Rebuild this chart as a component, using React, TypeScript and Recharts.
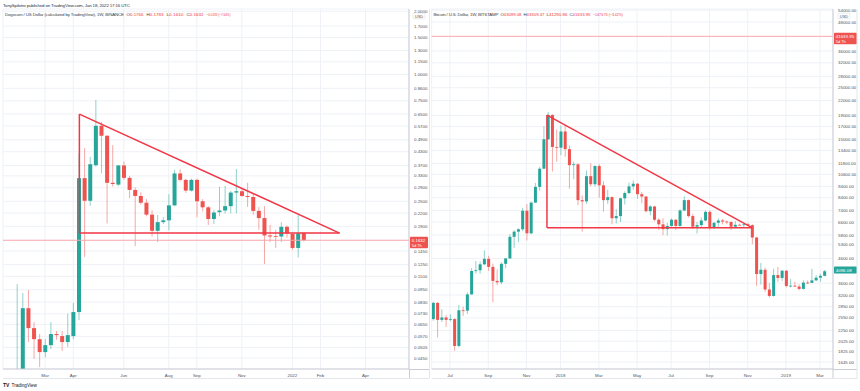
import { ComposedChart, Bar, XAxis, YAxis, CartesianGrid, ReferenceLine } from "recharts";

const GREEN = "#26a69a";
const RED = "#ef5350";
const LINE_RED = "#f23645";
const GRID = "#eef1f6";
const AXIS = "#c9ccd4";
const TEXT = "#50535e";
const FONT = "'Liberation Sans', Arial, sans-serif";

// Dogecoin weekly candles, first bar = week of 25 Jan 2021
const dogeOpen = [0.0087, 0.036, 0.0776, 0.0624, 0.0553, 0.048, 0.0518, 0.0585, 0.0572, 0.0536, 0.0572, 0.0744, 0.322, 0.2514, 0.371, 0.571, 0.512, 0.306, 0.3, 0.37, 0.323, 0.283, 0.265, 0.246, 0.216, 0.181, 0.199, 0.203, 0.239, 0.339, 0.316, 0.281, 0.316, 0.25, 0.234, 0.206, 0.222, 0.226, 0.237, 0.275, 0.279, 0.265, 0.262, 0.225, 0.208, 0.172, 0.171, 0.17, 0.189, 0.175, 0.15, 0.1766];
const dogeHigh = [0.101, 0.0916, 0.0947, 0.0666, 0.0585, 0.0553, 0.0666, 0.0605, 0.0605, 0.0731, 0.0821, 0.42, 0.447, 0.407, 0.757, 0.596, 0.515, 0.462, 0.372, 0.386, 0.33, 0.291, 0.276, 0.256, 0.227, 0.215, 0.21, 0.27, 0.353, 0.355, 0.32, 0.32, 0.32, 0.256, 0.237, 0.227, 0.293, 0.296, 0.28, 0.356, 0.284, 0.306, 0.27, 0.235, 0.237, 0.193, 0.183, 0.199, 0.192, 0.176, 0.2146, 0.1783];
const dogeLow = [0.0078, 0.033, 0.0536, 0.0446, 0.0407, 0.0453, 0.0496, 0.055, 0.0486, 0.0508, 0.0553, 0.0681, 0.136, 0.2381, 0.365, 0.339, 0.196, 0.294, 0.295, 0.316, 0.259, 0.153, 0.241, 0.212, 0.17, 0.16, 0.195, 0.182, 0.237, 0.31, 0.274, 0.278, 0.21, 0.224, 0.193, 0.195, 0.212, 0.219, 0.219, 0.219, 0.262, 0.235, 0.216, 0.183, 0.126, 0.16, 0.15, 0.16, 0.168, 0.147, 0.135, 0.161];
const dogeClose = [0.036, 0.0776, 0.0624, 0.0553, 0.048, 0.0518, 0.0585, 0.0578, 0.0536, 0.0578, 0.0744, 0.322, 0.2514, 0.375, 0.571, 0.512, 0.306, 0.302, 0.37, 0.323, 0.283, 0.265, 0.246, 0.216, 0.181, 0.199, 0.203, 0.239, 0.339, 0.316, 0.281, 0.316, 0.25, 0.234, 0.206, 0.221, 0.226, 0.237, 0.275, 0.279, 0.265, 0.262, 0.225, 0.208, 0.172, 0.17, 0.17, 0.189, 0.176, 0.15, 0.176, 0.1632];

const dogePriceTicks = [2.0, 1.7, 1.5, 1.3, 1.15, 1.0, 0.86, 0.75, 0.65, 0.57, 0.49, 0.43, 0.37, 0.33, 0.29, 0.25, 0.22, 0.19, 0.145, 0.125, 0.11, 0.095, 0.083, 0.073, 0.065, 0.057, 0.0505, 0.045];
const dogeMonthWeeks = [5, 10, 19, 27, 32, 40, 49, 54, 62];
const dogeMonthLabels = ["Mar", "Apr", "Jun", "Aug", "Sep", "Nov", "2022", "Feb", "Apr"];

// Bitcoin weekly candles, week 0 = 3 Jul 2017, first bar at week -4
const btcFirstWeek = -4;
const btcOpen = [2520, 2960, 2500, 2560, 2500, 2520, 1930, 2750, 2740, 3220, 4060, 4090, 4340, 4580, 4230, 3680, 3630, 4360, 4600, 5700, 6000, 6140, 7380, 5900, 8000, 9350, 11200, 15000, 19100, 13900, 13800, 16200, 13600, 11600, 11700, 8200, 8100, 10400, 9600, 11500, 9500, 8200, 8450, 6850, 7000, 8350, 8800, 9400, 9650, 8700, 8500, 7350, 7700, 6750, 6450, 6150, 6350, 6750, 6350, 7400, 8200, 7000, 6300, 6400, 6700, 7300, 6250, 6550, 6700, 6630, 6600, 6300, 6420, 6400, 6450, 6400, 5660, 3940, 4110, 3380, 3170, 3900, 3790, 4070, 3500, 3510, 3480, 3400, 3620, 3610, 3700, 3800, 3870];
const btcHigh = [3000, 2980, 2780, 2620, 2640, 2540, 2900, 2850, 3290, 4180, 4480, 4460, 4980, 4720, 4370, 4120, 4420, 4620, 5860, 6070, 6200, 7600, 7880, 8100, 9720, 11400, 17100, 19666, 19200, 16500, 17200, 17200, 14100, 12000, 11800, 8600, 11000, 11800, 11600, 11700, 9900, 9100, 8500, 7500, 8400, 8950, 9750, 9950, 9700, 8900, 8550, 7800, 7750, 6850, 6850, 6550, 6850, 6800, 7500, 8500, 8250, 7150, 6600, 6900, 7400, 7400, 6600, 6850, 6800, 6700, 6650, 6650, 6500, 6480, 6550, 6450, 5700, 4400, 4200, 3600, 4150, 4230, 4100, 4100, 3750, 3650, 3560, 3700, 3700, 4150, 3900, 3950, 4100];
const btcLow = [2480, 2100, 2450, 2330, 2470, 1840, 1900, 2600, 2650, 3210, 3960, 3950, 4300, 4060, 2980, 3530, 3560, 4170, 4580, 5100, 5400, 6030, 5500, 5850, 7980, 9000, 11200, 14900, 10900, 12000, 12800, 12600, 9200, 10100, 7800, 6000, 7900, 9400, 9400, 8400, 7320, 7900, 6450, 6500, 6600, 7850, 8700, 9100, 8300, 7950, 7250, 7050, 6650, 6100, 5800, 5780, 6300, 6100, 6300, 7350, 6900, 6150, 5880, 6250, 6650, 6100, 6150, 6250, 6450, 6450, 6100, 6200, 6380, 6250, 6350, 5300, 3500, 3550, 3300, 3120, 3150, 3650, 3680, 3450, 3450, 3460, 3350, 3380, 3570, 3600, 3680, 3650, 3850];
const btcClose = [2960, 2500, 2560, 2500, 2520, 1930, 2750, 2740, 3220, 4060, 4090, 4340, 4580, 4230, 3680, 3630, 4360, 4600, 5700, 6000, 6140, 7380, 5900, 8000, 9350, 11200, 15000, 19100, 13900, 13800, 16200, 13600, 11600, 11700, 8200, 8100, 10400, 9600, 11500, 9500, 8200, 8450, 6850, 7000, 8350, 8800, 9400, 9650, 8700, 8500, 7350, 7700, 6750, 6450, 6150, 6350, 6750, 6350, 7400, 8200, 7000, 6300, 6400, 6700, 7300, 6250, 6550, 6700, 6630, 6600, 6300, 6420, 6400, 6450, 6400, 5660, 3940, 4110, 3380, 3170, 3900, 3790, 4070, 3500, 3510, 3480, 3400, 3620, 3610, 3700, 3800, 3870, 4050];

const btcPriceTicks = [54000, 48000, 36000, 32000, 28000, 25000, 22000, 19000, 17000, 15000, 13400, 11800, 10600, 9400, 8400, 7400, 6600, 5800, 5300, 4600, 3600, 3200, 2850, 2550, 2250, 2025, 1825, 1645];
const btcMonthWeeks = [0, 9, 18, 26, 35, 44, 52, 61, 70, 79, 87];
const btcMonthLabels = ["Jul", "Sep", "Nov", "2018", "Mar", "May", "Jul", "Sep", "Nov", "2019", "Mar"];

// descending triangles drawn on the charts (week, price)
const dogeTriangle = { apexWeek: 11.1, endWeek: 57.4, top: 0.649, base: 0.1765 };
const btcTriangle = { apexWeek: 22.8, endWeek: 71.0, top: 19070, base: 6240 };

const buildCandles = (first: number, o: number[], h: number[], l: number[], c: number[]) =>
  o.map((open, i) => ({ t: first + i, open, high: h[i], low: l[i], close: c[i], range: [l[i], h[i]] }));

const dogeData = buildCandles(0, dogeOpen, dogeHigh, dogeLow, dogeClose);
const btcData = buildCandles(btcFirstWeek, btcOpen, btcHigh, btcLow, btcClose);

const triangleSegments = (tr: { apexWeek: number; endWeek: number; top: number; base: number }) => [
  [{ x: tr.apexWeek, y: tr.top }, { x: tr.endWeek, y: tr.base }],
  [{ x: tr.apexWeek, y: tr.top }, { x: tr.apexWeek, y: tr.base }],
  [{ x: tr.apexWeek, y: tr.base }, { x: tr.endWeek, y: tr.base }],
];

const CandleShape = (props: any) => {
  const { x, y, width, height, payload } = props;
  if (x == null || y == null || !payload) return null;
  const { open, high, low, close } = payload;
  const lh = Math.log(high);
  const span = lh - Math.log(low);
  const yOf = (v: number) => (span === 0 ? y : y + (height * (lh - Math.log(v))) / span);
  const color = close >= open ? GREEN : RED;
  const cx = x + width / 2;
  const top = yOf(Math.max(open, close));
  const bot = yOf(Math.min(open, close));
  return (
    <g>
      <line x1={cx} x2={cx} y1={y} y2={y + height} stroke={color} strokeOpacity={0.5} strokeWidth={1} />
      <rect x={x} y={top} width={width} height={Math.max(bot - top, 0.8)} fill={color} />
    </g>
  );
};

const PriceTag = (props: any) => {
  const { viewBox, text, sub, color, boxW } = props;
  if (!viewBox) return null;
  const x = viewBox.x + viewBox.width + 1;
  const y = viewBox.y;
  const h = sub ? 11.5 : 7;
  return (
    <g>
      <rect x={x} y={y - 3.5} width={boxW} height={h} fill={color} rx={0.8} />
      <text x={x + 1.8} y={y + 1.6} fontSize={4.4} fill="#fff" fontFamily={FONT}>{text}</text>
      {sub && <text x={x + 1.8} y={y + 6.4} fontSize={4} fill="#fff" fontFamily={FONT}>{sub}</text>}
    </g>
  );
};

type Tag = { value: number; text: string; sub?: string; color: string; line: boolean; boxW: number };

function Panel(props: {
  data: any[];
  left: number;
  marginLeft: number;
  axisWidth: number;
  yDomain: [number, number];
  yTicks: number[];
  digits: number;
  xDomain: [number, number];
  xTicks: number[];
  xLabels: string[];
  barSize: number;
  segments: any[];
  tags: Tag[];
}) {
  const p = props;
  return (
    <div style={{ position: "absolute", left: p.left, top: 0 }}>
      <ComposedChart width={430} height={391} data={p.data} margin={{ top: 9, right: 0, bottom: 0, left: p.marginLeft }}>
        <CartesianGrid stroke={GRID} />
        <XAxis
          type="number"
          dataKey="t"
          domain={p.xDomain}
          allowDataOverflow
          ticks={p.xTicks}
          interval={0}
          tickFormatter={(v: number) => p.xLabels[p.xTicks.indexOf(v)] ?? ""}
          tickLine={false}
          tickSize={3}
          height={22}
          axisLine={{ stroke: AXIS }}
          tick={{ fontSize: 4.4, fill: TEXT, fontFamily: FONT }}
        />
        <YAxis
          orientation="right"
          type="number"
          scale="log"
          domain={p.yDomain}
          allowDataOverflow
          ticks={p.yTicks}
          interval={0}
          tickFormatter={(v: number) => v.toFixed(p.digits)}
          width={p.axisWidth}
          tickLine={false}
          tickSize={3}
          axisLine={{ stroke: AXIS }}
          tick={{ fontSize: 4.4, fill: TEXT, fontFamily: FONT }}
        />
        {p.tags.map((t, k) => (
          <ReferenceLine
            key={`tag-${k}`}
            y={t.value}
            stroke={t.line ? "#f7a7ac" : "none"}
            strokeWidth={1}
            label={<PriceTag text={t.text} sub={t.sub} color={t.color} boxW={t.boxW} />}
          />
        ))}
        <Bar dataKey="range" barSize={p.barSize} isAnimationActive={false} shape={(s: any) => <CandleShape {...s} />} />
        {p.segments.map((s, k) => (
          <ReferenceLine key={`seg-${k}`} segment={s} stroke={LINE_RED} strokeWidth={1.5} ifOverflow="visible" />
        ))}
      </ComposedChart>
    </div>
  );
}

const legendItems = (xs: number[], letters: string[], values: string[], len: number) =>
  letters.map((l, i) => (
    <text key={l} x={xs[i]} y={16.4} fontSize={4.4} fontFamily={FONT} textLength={len} lengthAdjust="spacingAndGlyphs">
      <tspan fill="#3a3d47">{l}</tspan>
      <tspan fill={LINE_RED}>{values[i]}</tspan>
    </text>
  ));

export default function App() {
  return (
    <div style={{ position: "absolute", left: 0, top: 0, width: 860, height: 391, background: "#fff", overflow: "hidden" }}>
      <Panel
        data={dogeData}
        left={0}
        marginLeft={3}
        axisWidth={21}
        yDomain={[0.0399, 2.049]}
        yTicks={dogePriceTicks}
        digits={4}
        xDomain={[-2.49, 69.75]}
        xTicks={dogeMonthWeeks}
        xLabels={dogeMonthLabels}
        barSize={4}
        segments={triangleSegments(dogeTriangle)}
        tags={[{ value: 0.1632, text: "0.1632", sub: "5d 7h", color: RED, line: true, boxW: 18 }]}
      />
      <Panel
        data={btcData}
        left={430}
        marginLeft={1.7}
        axisWidth={27}
        yDomain={[1536, 54600]}
        yTicks={btcPriceTicks}
        digits={2}
        xDomain={[-4.3, 90.05]}
        xTicks={btcMonthWeeks}
        xLabels={btcMonthLabels}
        barSize={3}
        segments={triangleSegments(btcTriangle)}
        tags={[
          { value: 41633.95, text: "41633.95", sub: "5d 7h", color: RED, line: true, boxW: 23 },
          { value: 4096.08, text: "4096.08", color: GREEN, line: false, boxW: 23 },
        ]}
      />
      <svg width={860} height={391} style={{ position: "absolute", left: 0, top: 0, pointerEvents: "none" }}>
        <text x={3} y={7} fontSize={4.4} fill="#2a2e39" fontFamily={FONT} textLength={127}>
          TonySpilotro published on TradingView.com, Jan 18, 2022 17:16 UTC
        </text>
        <text x={5} y={16.4} fontSize={4.4} fill="#3a3d47" fontFamily={FONT} textLength={119}>
          Dogecoin / US Dollar (calculated by TradingView), 1W, BINANCE
        </text>
        {legendItems([126.5, 146.5, 166.5, 186.5], ["O", "H", "L", "C"], ["0.1766", "0.1783", "0.1610", "0.1632"], 17)}
        <text x={206.5} y={16.4} fontSize={4.4} fill={LINE_RED} fontFamily={FONT} textLength={24} lengthAdjust="spacingAndGlyphs">−0.0135 (−7.64%)</text>
        <text x={433.5} y={16.4} fontSize={4.4} fill="#3a3d47" fontFamily={FONT} textLength={65}>
          Bitcoin / U.S. Dollar, 1W, BITSTAMP
        </text>
        {legendItems([500.5, 523.5, 546.5, 569.5], ["O", "H", "L", "C"], ["43099.08", "43309.47", "41290.86", "41633.95"], 21)}
        <text x={593} y={16.4} fontSize={4.4} fill={LINE_RED} fontFamily={FONT} textLength={30} lengthAdjust="spacingAndGlyphs">−1473.75 (−3.42%)</text>

        <rect x={413} y={13.2} width={12} height={5.6} fill="#fff" stroke="#d6d8de" strokeWidth={0.5} rx={1} />
        <text x={419} y={17.5} fontSize={4} fill={TEXT} fontFamily={FONT} textAnchor="middle">USD</text>
        <rect x={838} y={13.2} width={12} height={5.6} fill="#fff" stroke="#d6d8de" strokeWidth={0.5} rx={1} />
        <text x={844} y={17.5} fontSize={4} fill={TEXT} fontFamily={FONT} textAnchor="middle">USD</text>

        <line x1={409.5} x2={409.5} y1={369} y2={378.5} stroke={AXIS} strokeWidth={1} />
        <line x1={3} x2={429} y1={378.5} y2={378.5} stroke="#e4e6eb" strokeWidth={1} />
        <line x1={409} x2={429} y1={369.5} y2={369.5} stroke={AXIS} strokeWidth={1} />
        <line x1={429.5} x2={429.5} y1={9} y2={378.5} stroke="#e4e6eb" strokeWidth={1} />
        <line x1={833} x2={833} y1={369} y2={378.5} stroke={AXIS} strokeWidth={1} />
        <line x1={431.7} x2={857} y1={378.5} y2={378.5} stroke="#e4e6eb" strokeWidth={1} />
        <line x1={833} x2={857} y1={369.5} y2={369.5} stroke={AXIS} strokeWidth={1} />
        <line x1={857} x2={857} y1={9} y2={378.5} stroke="#e4e6eb" strokeWidth={1} />

        <text x={3} y={387} fontSize={5} fill="#131722" fontFamily={FONT} fontWeight="bold">TV</text>
        <text x={11.5} y={387} fontSize={4.6} fill="#131722" fontFamily={FONT}>TradingView</text>
      </svg>
    </div>
  );
}
